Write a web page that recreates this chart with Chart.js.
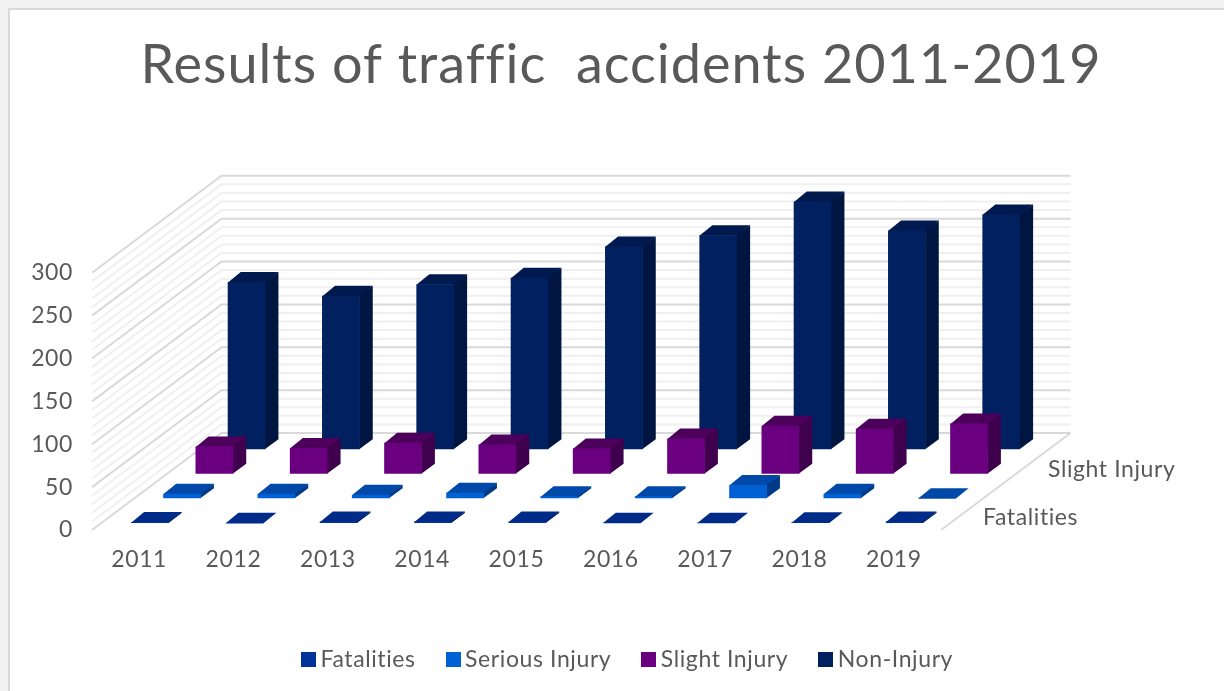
<!DOCTYPE html>
<html>
<head>
<meta charset="utf-8">
<style>
html,body{margin:0;padding:0;background:#f2f2f2;width:1224px;height:691px;overflow:hidden}
#card{position:absolute;left:8px;top:8px;width:1216px;height:683px;background:#fff;border-left:2px solid #d9d9d9;border-top:2px solid #d9d9d9;box-sizing:border-box}
canvas{position:absolute;left:0;top:0}
</style>
<script src="https://cdn.jsdelivr.net/npm/chart.js@4/dist/chart.umd.min.js"></script>
</head>
<body>
<div id="card"></div>
<canvas id="c" width="1224" height="691"></canvas>
<script>
const titleText = 'Results of traffic  accidents 2011-2019';
const years = ['2011','2012','2013','2014','2015','2016','2017','2018','2019'];
const fatalities = [1.1,0.2,1.7,1.7,1.7,0.3,0.3,0.8,1.7];
const seriousInjury = [5.4,5.4,4.2,6.6,2.3,2.3,15.6,5.4,0.2];
const slightInjury = [31.6,30,36,34,29.5,41,56,52.5,58.5];
const nonInjury = [195,179,192.5,200,236.6,249.8,289,255.3,274];
const seriesNames = ['Fatalities','Serious Injury','Slight Injury','Non-Injury'];
const frontColors = ['#003399','#0061d4','#6a0080','#002060'];
const topColors = ['#002b88','#0049a8','#4c005c','#001a50'];
const sideColors = ['#001f66','#003a88','#3f004d','#001540'];
const seriesDx = [10.8,42.9,75.2,107.4];
const seriesDy = [-7,-31.7,-56.3,-80.7];
const depthDx = 13, depthDy = -10;
const wallDx = 129.5, wallDy = -97;
const fontFamily = 'Lato, "Open Sans", sans-serif';
const textColor = '#595959';

const marker = color => {
  const m = document.createElement('canvas');
  m.width = 15; m.height = 15;
  const g = m.getContext('2d');
  g.fillStyle = color; g.fillRect(0,0,15,15);
  return m;
};

const depth3d = {
  id:'depth3d',
  beforeLayout(chart){ chart.ctx.letterSpacing = '0.6px'; },
  afterLayout(chart){ chart.legend.left += 9.5; chart.legend.right += 9.5; },
  beforeDraw(chart){
    const t = chart.titleBlock;
    if(!t._spaced){
      const d = t.draw.bind(t);
      t.draw = (...a)=>{const c=chart.ctx,p=c.letterSpacing;c.letterSpacing='1px';d(...a);c.letterSpacing=p;};
      t._spaced = true;
    }
    const {ctx,chartArea:a,scales:{y}} = chart;
    ctx.save();
    const draw = (v,color,w)=>{
      const py = y.getPixelForValue(v);
      ctx.strokeStyle=color; ctx.lineWidth=w;
      ctx.beginPath();
      ctx.moveTo(a.left,py);
      ctx.lineTo(a.left+wallDx,py+wallDy);
      ctx.lineTo(a.right+wallDx,py+wallDy);
      ctx.stroke();
    };
    for(let v=0;v<=300;v+=10){ if(v%50) draw(v,'#f0f0f0',2); }
    for(let v=0;v<=300;v+=50){ draw(v,'#d9d9d9',2); }
    const b = y.getPixelForValue(0);
    ctx.strokeStyle='#d9d9d9'; ctx.lineWidth=2;
    ctx.beginPath(); ctx.moveTo(a.right,b); ctx.lineTo(a.right+wallDx,b+wallDy); ctx.stroke();
    ctx.restore();
  },
  beforeDatasetDraw(chart,args){
    const {ctx} = chart, i = args.index;
    ctx.save();
    ctx.translate(seriesDx[i],seriesDy[i]);
    args.meta.data.forEach(el=>{
      const {x,y,base,width} = el.getProps(['x','y','base','width'],true);
      const l=x-width/2, r=x+width/2;
      ctx.fillStyle = topColors[i];
      ctx.beginPath();
      ctx.moveTo(l,y+0.6); ctx.lineTo(l+depthDx,y+depthDy); ctx.lineTo(r+depthDx,y+depthDy); ctx.lineTo(r,y+0.6);
      ctx.closePath(); ctx.fill();
      ctx.fillStyle = sideColors[i];
      ctx.beginPath();
      ctx.moveTo(r-0.6,y); ctx.lineTo(r+depthDx,y+depthDy); ctx.lineTo(r+depthDx,base+depthDy); ctx.lineTo(r-0.6,base);
      ctx.closePath(); ctx.fill();
    });
  },
  afterDatasetDraw(chart){ chart.ctx.restore(); },
  afterDraw(chart){
    const {ctx} = chart;
    ctx.save();
    ctx.font = '23px '+fontFamily;
    ctx.fillStyle = textColor;
    ctx.textBaseline='middle';
    ctx.textAlign='left';
    ctx.fillText(seriesNames[2],1048,470);
    ctx.fillText(seriesNames[0],983,518);
    ctx.restore();
  }
};

const seriesValues = [fatalities,seriousInjury,slightInjury,nonInjury];
new Chart(document.getElementById('c'),{
  type:'bar',
  data:{
    labels:years,
    datasets:seriesNames.map((n,i)=>({
      label:n,data:seriesValues[i],backgroundColor:frontColors[i],
      grouped:false,categoryPercentage:1,barPercentage:0.4,clip:false,borderWidth:0
    }))
  },
  plugins:[depth3d],
  options:{
    responsive:false,animation:false,
    layout:{padding:{left:18,right:0,top:0,bottom:10}},
    scales:{
      x:{grid:{display:false},border:{display:false},
         afterFit(s){s.height=81;},
         ticks:{color:textColor,font:{family:fontFamily,size:23},padding:8,maxRotation:0}},
      y:{min:0,max:300,grid:{display:false},border:{display:false},
         afterFit(s){s.width=74;},
         ticks:{stepSize:50,color:textColor,font:{family:fontFamily,size:23},padding:11}},
      yR:{position:'right',grid:{display:false},border:{display:false},
         afterFit(s){s.width=283;},ticks:{display:false}}
    },
    plugins:{
      title:{display:true,text:titleText,color:textColor,
             font:{family:fontFamily,size:54,weight:'normal'},padding:{top:33,bottom:175}},
      legend:{position:'bottom',
        labels:{usePointStyle:true,pointStyleWidth:1,padding:37,color:textColor,
          font:{family:fontFamily,size:23},
          generateLabels:()=>seriesNames.map((n,i)=>({text:n,fillStyle:frontColors[i],fontColor:textColor,
            pointStyle:marker(frontColors[i]),lineWidth:0,strokeStyle:'transparent',datasetIndex:i,hidden:false}))}},
      tooltip:{enabled:false}
    }
  }
});
</script>
</body>
</html>
